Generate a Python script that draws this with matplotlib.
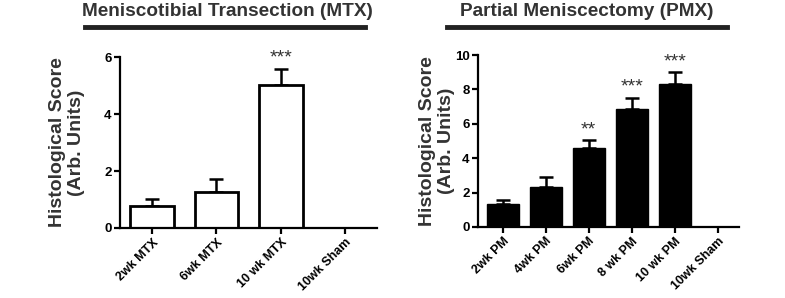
import matplotlib
matplotlib.use("Agg")
import matplotlib.pyplot as plt
from matplotlib.lines import Line2D

plt.rcParams['font.family'] = ['Liberation Sans', 'DejaVu Sans']
plt.rcParams['font.weight'] = 'bold'

# Data
mtx_labels = ["2wk MTX", "6wk MTX", "10 wk MTX", "10wk Sham"]
mtx_values = [0.77, 1.26, 5.02, 0.0]
mtx_err = [0.24, 0.46, 0.56, 0.0]
mtx_stars = ["", "", "***", ""]

pmx_labels = ["2wk PM", "4wk PM", "6wk PM", "8 wk PM", "10 wk PM", "10wk Sham"]
pmx_values = [1.34, 2.34, 4.6, 6.84, 8.31, 0.0]
pmx_err = [0.21, 0.58, 0.45, 0.68, 0.72, 0.0]
pmx_stars = ["", "", "**", "***", "***", ""]

fig = plt.figure(figsize=(7.85, 2.98), dpi=100)
txt = '#333333'

def style(ax, ylim, yticks, labelpad):
    for s in ['top', 'right']:
        ax.spines[s].set_visible(False)
    for s in ['left', 'bottom']:
        ax.spines[s].set_linewidth(1.6)
    ax.set_ylim(*ylim)
    ax.set_yticks(yticks)
    ax.tick_params(width=1.6, length=4, pad=2)
    ax.tick_params(axis='y', labelsize=9.5)
    for l in ax.get_yticklabels():
        l.set_fontweight('bold')
    ax.set_ylabel("Histological Score\n(Arb. Units)", fontsize=14, fontweight='bold',
                  color=txt, linespacing=1.15, labelpad=labelpad)

def plot_panel(ax, labels, values, err, stars, color, width, lw, star_off):
    x = list(range(len(labels)))
    ax.bar(x, values, width=width, color=color, edgecolor='black', linewidth=lw, zorder=2)
    xe = [xi for xi, v in zip(x, values) if v > 0]
    ve = [v for v in values if v > 0]
    ee = [e for e, v in zip(err, values) if v > 0]
    ax.errorbar(xe, ve, yerr=[[0]*len(ee), ee], fmt='none', ecolor='black',
                elinewidth=1.8, capsize=5, capthick=1.8, zorder=1)
    for xi, v, e, s in zip(x, values, err, stars):
        if s:
            ax.text(xi, v + e + star_off, s, ha='center', va='bottom', fontsize=14,
                    color=txt, fontweight='normal')
    ax.set_xticks(x)
    ax.set_xticklabels(labels, rotation=45, ha='right', rotation_mode='anchor',
                       fontsize=9, fontweight='bold')

# Left panel
ax1 = fig.add_axes([0.1529, 0.2349, 0.3274, 0.5738])
plot_panel(ax1, mtx_labels, mtx_values, mtx_err, mtx_stars, 'white', 0.68, 2.0, 0.1)
ax1.set_xlim(-0.5, 3.5)
style(ax1, (0, 6), [0, 2, 4, 6], 14)

# Right panel
ax2 = fig.add_axes([0.6089, 0.2383, 0.3325, 0.577])
plot_panel(ax2, pmx_labels, pmx_values, pmx_err, pmx_stars, 'black', 0.75, 1.0, 0.1)
ax2.set_xlim(-0.58, 5.5)
style(ax2, (0, 10), [0, 2, 4, 6, 8, 10], 0)

# Titles with underline bars
fig.text(227/785, 1 - 12/298, "Meniscotibial Transection (MTX)", ha='center', va='center',
         fontsize=13.7, fontweight='bold', color=txt)
fig.add_artist(Line2D([85/785, 365/785], [1 - 27/298, 1 - 27/298], color='#222222', linewidth=3.5))
fig.text(587/785, 1 - 12/298, "Partial Meniscectomy (PMX)", ha='center', va='center',
         fontsize=13.7, fontweight='bold', color=txt)
fig.add_artist(Line2D([447/785, 727/785], [1 - 27/298, 1 - 27/298], color='#222222', linewidth=3.5))

fig.savefig("out.png", dpi=100)
